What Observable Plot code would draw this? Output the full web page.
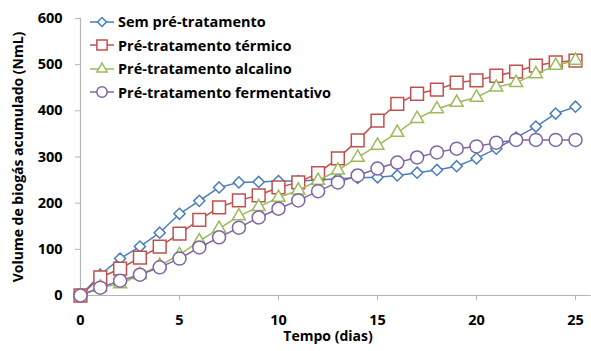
<!DOCTYPE html>
<html>
<head>
<meta charset="utf-8">
<script src="https://cdn.jsdelivr.net/npm/d3@7"></script>
<script src="https://cdn.jsdelivr.net/npm/@observablehq/plot@0.6"></script>
<style>
  html, body { margin: 0; padding: 0; background: #fff; }
  #chart { position: relative; width: 591px; height: 351px; font-family: "Open Sans", sans-serif; font-weight: bold; }
  #legend { position: absolute; left: 88px; top: 10px; font-size: 14.5px; color: #000; }
  #legend .row { display: flex; align-items: center; height: 23.5px; }
  #legend svg { display: block; margin-right: 2px; }
</style>
</head>
<body>
<div id="chart"></div>
<script>
// Tempo de digestão (dias)
const dias = [0, 1, 2, 3, 4, 5, 6, 7, 8, 9, 10, 11, 12, 13, 14, 15, 16, 17, 18, 19, 20, 21, 22, 23, 24, 25];

// Volume de biogás acumulado (NmL) por tratamento
const semPre = [0, 45, 80, 106, 136, 177, 205, 234, 245, 246, 248, 248, 250, 253, 255, 256, 260, 266, 272, 280, 297, 318, 342, 366, 394, 409];
const termico = [0, 39, 58, 82, 106, 134, 164, 191, 206, 217, 234, 245, 265, 297, 336, 379, 415, 437, 446, 461, 466, 476, 485, 498, 505, 509];
const alcalino = [0, 18, 25, 45, 65, 88, 118, 145, 172, 192, 212, 228, 249, 271, 299, 325, 353, 383, 404, 418, 429, 451, 461, 480, 498, 509];
const fermentativo = [0, 17, 32, 45, 61, 80, 104, 126, 147, 169, 188, 206, 226, 245, 260, 275, 288, 299, 310, 318, 323, 331, 337, 337, 337, 337];

const seriesNames = ["Sem pré-tratamento", "Pré-tratamento térmico", "Pré-tratamento alcalino", "Pré-tratamento fermentativo"];
const seriesValues = [semPre, termico, alcalino, fermentativo];
const seriesColors = ["#4a7ebb", "#c0504d", "#9bbb59", "#8064a2"];
const seriesSymbols = ["diamond2", "square", "triangle", "circle"];
const seriesRadius = [5, 7.2, 4.8, 6.5];

const yTicks = [0, 100, 200, 300, 400, 500, 600];
const xTicks = [0, 5, 10, 15, 20, 25];

const rows = seriesNames.flatMap((name, i) =>
  dias.map((d, j) => ({serie: name, dia: d, volume: seriesValues[i][j]}))
);

const gray = "#b5b5b5";

const marks = [
  // eixos: linha do zero e linha vertical em x = 0
  Plot.ruleY([0], {x1: 0, x2: 25.8, stroke: gray, strokeWidth: 1.2, clip: false}),
  Plot.ruleX([0], {y1: 0, y2: 600, stroke: gray, strokeWidth: 1.2}),
  Plot.axisY({ticks: yTicks, tickSize: 5, tickPadding: 13, stroke: gray, fill: "#000", fontSize: 14.5, fontWeight: "bold", label: null}),
  Plot.axisX({ticks: xTicks, tickSize: 5, tickPadding: 14, stroke: gray, fill: "#000", fontSize: 14.5, fontWeight: "bold", label: null}),
  Plot.text(["Tempo (dias)"], {text: d => d, frameAnchor: "bottom", dy: 45, fontSize: 14, fontWeight: "bold", fill: "#000"}),
  Plot.text(["Volume de biogás acumulado (NmL)"], {text: d => d, frameAnchor: "left", textAnchor: "middle", dx: -62, rotate: -90, fontSize: 14, fontWeight: "bold", fill: "#000"})
];

seriesNames.forEach((name, i) => {
  const data = rows.filter(r => r.serie === name);
  marks.push(
    Plot.line(data, {x: "dia", y: "volume", stroke: seriesColors[i], strokeWidth: 1.5}),
    Plot.dot(data, {x: "dia", y: "volume", symbol: () => seriesSymbols[i], r: seriesRadius[i], stroke: seriesColors[i], strokeWidth: 1.5, fill: "#fff"})
  );
});

const chart = Plot.plot({
  width: 591,
  height: 351,
  marginLeft: 80,
  marginRight: 16,
  marginTop: 18,
  marginBottom: 56,
  style: {fontFamily: "'Open Sans', sans-serif", fontWeight: "bold", background: "#fff"},
  x: {domain: [0, 25]},
  y: {domain: [0, 600]},
  symbol: {type: "identity"},
  marks
});

const container = document.getElementById("chart");
container.appendChild(chart);

// legenda com linha e símbolo de cada série
const legend = d3.select(container).append("div").attr("id", "legend");
seriesNames.forEach((name, i) => {
  const row = legend.append("div").attr("class", "row");
  const svg = row.append("svg").attr("width", 28).attr("height", 18);
  svg.append("line").attr("x1", 2).attr("x2", 26).attr("y1", 9).attr("y2", 9)
    .attr("stroke", seriesColors[i]).attr("stroke-width", 1.5);
  const symType = {diamond2: d3.symbolDiamond2, square: d3.symbolSquare, triangle: d3.symbolTriangle, circle: d3.symbolCircle}[seriesSymbols[i]];
  const r = seriesRadius[i] * 0.8;
  svg.append("path").attr("transform", "translate(14,9)")
    .attr("d", d3.symbol(symType, Math.PI * r * r)())
    .attr("fill", "#fff").attr("stroke", seriesColors[i]).attr("stroke-width", 1.5);
  row.append("span").text(name);
});
</script>
</body>
</html>
